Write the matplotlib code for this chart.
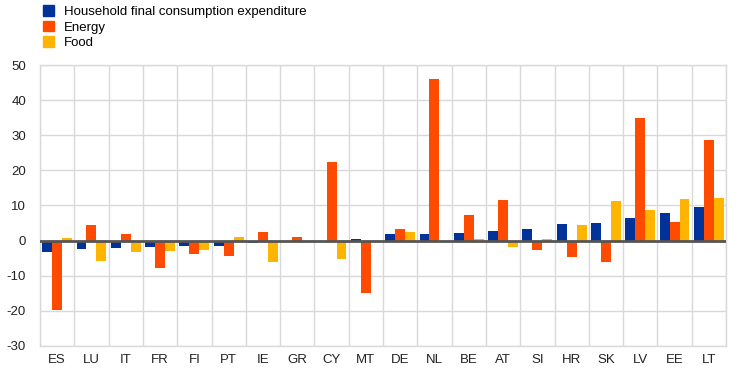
import matplotlib
matplotlib.use("Agg")
import matplotlib.pyplot as plt
import numpy as np
from matplotlib.patches import Patch

plt.rcParams['font.family'] = ['Liberation Sans', 'DejaVu Sans']

categories = ["ES", "LU", "IT", "FR", "FI", "PT", "IE", "GR", "CY", "MT",
              "DE", "NL", "BE", "AT", "SI", "HR", "SK", "LV", "EE", "LT"]
hfce = [-3.1, -2.4, -2.1, -1.7, -1.4, -1.4, -0.6, -0.5, 0.0, 0.5,
        1.9, 1.9, 2.2, 2.8, 3.3, 4.8, 5.0, 6.5, 7.9, 9.6]
energy = [-19.7, 4.5, 1.9, -7.8, -3.8, -4.4, 2.5, 1.0, 22.3, -14.8,
          3.3, 45.9, 7.3, 11.6, -2.7, -4.7, -6.1, 34.8, 5.3, 28.7]
food = [0.8, -5.8, -3.1, -2.9, -2.7, 1.0, -6.0, 0.0, -5.2, 0.0,
        2.5, 0.0, 0.5, -1.8, 0.5, 4.5, 11.3, 8.8, 11.9, 12.2]
series_names = ["Household final consumption expenditure", "Energy", "Food"]
colors = ["#003299", "#FF4B00", "#FFB400"]
yticks = [-30, -20, -10, 0, 10, 20, 30, 40, 50]

fig = plt.figure(figsize=(7.44, 3.73), dpi=100)
ax = fig.add_axes([40/744, 1-346/373, (726-40)/744, (346-65)/373])

x = np.arange(len(categories))
w = 0.29
for i, (vals, c) in enumerate(zip([hfce, energy, food], colors)):
    ax.bar(x + (i-1)*w, vals, width=w, color=c, zorder=3)

ax.set_xlim(-0.5, len(categories)-0.5)
ax.set_ylim(-30, 50)
ax.set_yticks(yticks)
ax.set_yticklabels([str(t) for t in yticks])
ax.set_xticks(x)
ax.set_xticklabels(categories)
ax.set_xticks(np.arange(-0.5, len(categories), 1), minor=True)
ax.grid(False)
ax.yaxis.grid(True, color="#d9d9d9", linewidth=1, zorder=0)
ax.xaxis.grid(True, which="minor", color="#d9d9d9", linewidth=1, zorder=0)
ax.tick_params(axis="both", which="both", length=0, labelsize=9.5, colors="#222222")
ax.tick_params(axis="y", pad=10)
ax.tick_params(axis="x", pad=6)
for s in ax.spines.values():
    s.set_color("#d9d9d9")
    s.set_linewidth(1)
ax.axhline(0, color="#555555", linewidth=2, zorder=4)

handles = [Patch(color=c) for c in colors]
fig.legend(handles, series_names, loc="upper left", bbox_to_anchor=(38/744, 1.0),
           frameon=False, fontsize=9.5, handlelength=0.85, handleheight=0.85,
           handletextpad=0.7, labelspacing=0.2, borderaxespad=0)

fig.savefig("out.png", dpi=100)
